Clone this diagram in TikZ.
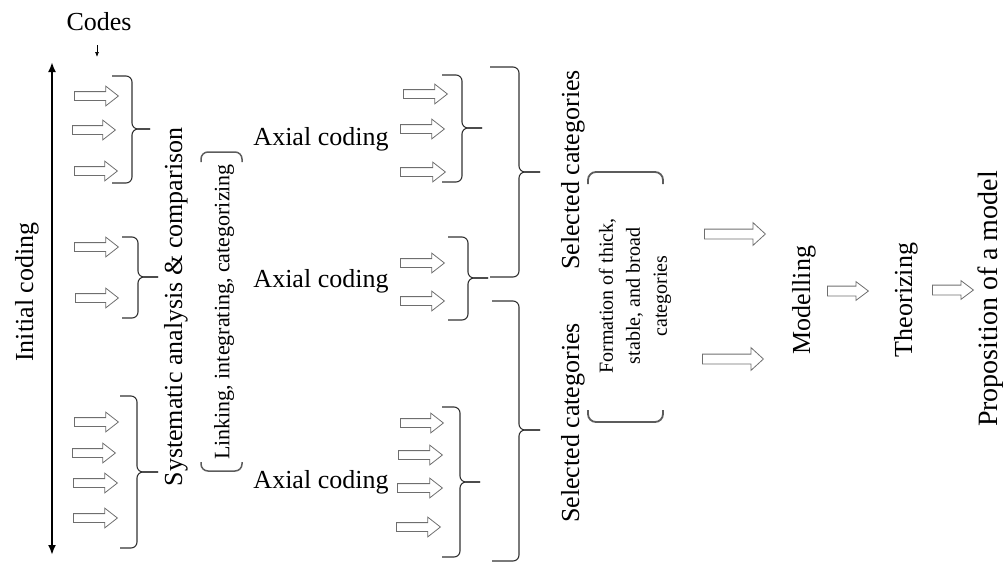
\documentclass[tikz,border=0pt]{standalone}
\usepackage{fontspec}
\setmainfont{Liberation Serif}
\usepackage{tikz}
\usetikzlibrary{arrows.meta, shapes.arrows}
\definecolor{Arrow_Gray}{HTML}{6E6E6E}
\definecolor{Brace_Gray}{HTML}{333333}
\definecolor{Bracket_Gray}{HTML}{5C5C5C}

% brace: ends x, spine x, tip x, top y, tip y, bottom y
\newcommand{\codebrace}[6]{%
    \draw[Brace_Gray, line width=1.1pt, rounded corners=6pt] (#1,#4) -- (#2,#4) -- (#2,#5) -- (#3,#5);
    \draw[Brace_Gray, line width=1.1pt, rounded corners=6pt] (#3,#5) -- (#2,#5) -- (#2,#6) -- (#1,#6);
}

\begin{document}
\begin{tikzpicture}[x=1pt, y=-1pt,
    stage/.style={font=\fontsize{26}{31}\selectfont, inner sep=0pt},
    smalltext/.style={font=\fontsize{22}{26}\selectfont, inner sep=0pt},
    notetext/.style={font=\fontsize{20}{27}\selectfont, inner sep=0pt, align=center},
    codearrow/.style={single arrow, draw=Arrow_Gray, line width=0.8pt, anchor=tail, inner xsep=0pt, inner ysep=4pt, single arrow head extend=5.5pt, single arrow tip angle=76, minimum height=#1},
    bigarrow/.style={single arrow, draw=Arrow_Gray, line width=0.8pt, anchor=tail, inner xsep=0pt, inner ysep=4.5pt, single arrow head extend=6.5pt, single arrow tip angle=85, minimum height=#1},
    steparrow/.style={single arrow, draw=Arrow_Gray, line width=0.8pt, anchor=tail, inner xsep=0pt, inner ysep=4.5pt, single arrow head extend=4.5pt, single arrow tip angle=74, minimum height=#1},
    bracket/.style={Bracket_Gray, line width=1.8pt, rounded corners=8pt}]
    \useasboundingbox (0,0) rectangle (1006,563);

    % initial coding axis
    \coordinate (ictop) at (52,62);
    \coordinate (icbot) at (52,555);
    \draw[{Latex[length=10pt,width=8pt]}-{Latex[length=10pt,width=8pt]}, line width=2pt] (ictop) -- (icbot);
    \node[stage, rotate=90] (initial) at (27,292) {Initial coding};
    \node[stage] (codes) at (99,22) {Codes};
    \coordinate (codestip) at (97,57);
    \draw[-{Latex[length=5pt,width=4pt]}, line width=0.7pt, shorten <=14pt] (codes.south -| codestip) -- (codestip);

    % codes
    \node[codearrow=44pt] (c1) at (74,96) {};
    \node[codearrow=43pt] (c2) at (72,130) {};
    \node[codearrow=43pt] (c3) at (74,171) {};
    \node[codearrow=44pt] (c4) at (74,247) {};
    \node[codearrow=43pt] (c5) at (75,298) {};
    \node[codearrow=44pt] (c6) at (74,422) {};
    \node[codearrow=43pt] (c7) at (72,453) {};
    \node[codearrow=44pt] (c8) at (73,483) {};
    \node[codearrow=44pt] (c9) at (73,518) {};
    \codebrace{112}{132}{150}{76}{129}{183}
    \codebrace{122}{138}{158}{237}{277}{318}
    \codebrace{120}{137}{158}{396}{472}{548}

    \node[stage, rotate=90] (analysis) at (176,307) {Systematic analysis \& comparison};
    \node[smalltext, rotate=90] (linking) at (224,312) {Linking, integrating, categorizing};
    \draw[bracket, line width=1.5pt, rounded corners=7pt] (201,162) -- (201,152) -- (242,152) -- (242,162);
    \draw[bracket, line width=1.5pt, rounded corners=7pt] (201,462) -- (201,471) -- (242,471) -- (242,462);

    % axial coding
    \node[stage] (axial1) at (321,139) {Axial coding};
    \node[stage] (axial2) at (321,281) {Axial coding};
    \node[stage] (axial3) at (321,482) {Axial coding};
    \node[codearrow=44pt] (a1) at (403,94) {};
    \node[codearrow=44pt] (a2) at (400,129) {};
    \node[codearrow=45pt] (a3) at (400,172) {};
    \node[codearrow=44pt] (a4) at (400,263) {};
    \node[codearrow=44pt] (a5) at (400,301) {};
    \node[codearrow=43pt] (a6) at (400,423) {};
    \node[codearrow=44pt] (a7) at (398,455) {};
    \node[codearrow=45pt] (a8) at (397,488) {};
    \node[codearrow=44pt] (a9) at (396,527) {};
    \codebrace{442}{462}{482}{75}{128}{182}
    \codebrace{448}{468}{488}{237}{278}{320}
    \codebrace{442}{460}{480}{407}{482}{557}

    % selected categories
    \codebrace{490}{519}{540}{67}{172}{277}
    \codebrace{492}{519}{540}{301}{430}{561}
    \node[stage, rotate=90] (selected1) at (573,170) {Selected categories};
    \node[stage, rotate=90] (selected2) at (573,423) {Selected categories};
    \node[notetext, rotate=90] (formation) at (635,296) {Formation of thick,\\ stable, and broad\\ categories};
    \draw[bracket] (588,184) -- (588,172) -- (663,172) -- (663,184);
    \draw[bracket] (588,410) -- (588,422) -- (663,422) -- (663,410);

    % model
    \node[bigarrow=61pt] (f1) at (704,234) {};
    \node[bigarrow=61pt] (f2) at (702,359) {};
    \node[stage, rotate=90] (modelling) at (804,300) {Modelling};
    \node[steparrow=41pt] (m1) at (827,291) {};
    \node[stage, rotate=90] (theorizing) at (906,300) {Theorizing};
    \node[steparrow=41pt] (m2) at (932,290) {};
    \node[stage, font=\fontsize{28}{33}\selectfont, rotate=90] (proposition) at (991,299) {Proposition of a model};
\end{tikzpicture}
\end{document}
